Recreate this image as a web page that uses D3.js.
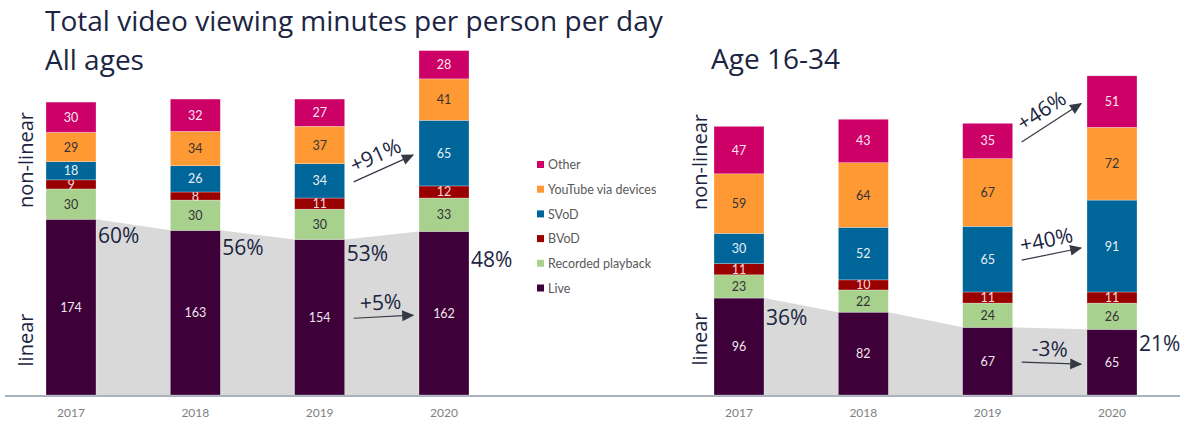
<!DOCTYPE html>
<html>
<head>
<meta charset="utf-8">
<script src="https://cdn.jsdelivr.net/npm/d3@7"></script>
<style>
  body { margin: 0; background: #fff; }
  svg { display: block; }
</style>
</head>
<body>
<div id="chart"></div>
<script>
// Data (minutes per person per day)
const years = ['2017', '2018', '2019', '2020'];
const seriesNames = ['Live', 'Recorded playback', 'BVoD', 'SVoD', 'YouTube via devices', 'Other'];
const seriesColors = ['#3d0039', '#a9d18e', '#990000', '#006699', '#ff9933', '#cc0066'];
const labelColors = ['#f2e6ee', '#333333', '#f5dada', '#e8f0f6', '#333333', '#fbe6f0'];

const allAgesLive = [174, 163, 154, 162];
const allAgesRecorded = [30, 30, 30, 33];
const allAgesBVoD = [9, 8, 11, 12];
const allAgesSVoD = [18, 26, 34, 65];
const allAgesYouTube = [29, 34, 37, 41];
const allAgesOther = [30, 32, 27, 28];

const youngLive = [96, 82, 67, 65];
const youngRecorded = [23, 22, 24, 26];
const youngBVoD = [11, 10, 11, 11];
const youngSVoD = [30, 52, 65, 91];
const youngYouTube = [59, 64, 67, 72];
const youngOther = [47, 43, 35, 51];

// which years get a "linear share" label, and the change arrows (from 2019 to 2020)
const allAgesShareYears = ['2017', '2018', '2019', '2020'];
const youngShareYears = ['2017', '2020'];
const allAgesArrowSeries = ['SVoD', 'Live'];
const youngArrowSeries = ['Other', 'SVoD', 'Live'];

(function() {
  const width = 1193;
  const height = 423;
  const baseY = 395;
  const barW = 50;
  const navy = '#1b2542';
  const sans = 'Lato, sans-serif';
  const head = '"Open Sans", sans-serif';

  const svg = d3.select('#chart').append('svg')
    .attr('width', width)
    .attr('height', height);

  const y = d3.scaleLinear().domain([0, 345]).range([baseY, baseY - 345 * 1.01]);

  // arrowhead
  svg.append('defs').append('marker')
    .attr('id', 'arrowhead')
    .attr('viewBox', '0 -5 10 10')
    .attr('refX', 9)
    .attr('refY', 0)
    .attr('orient', 'auto')
    .attr('markerUnits', 'userSpaceOnUse')
    .attr('markerWidth', 14)
    .attr('markerHeight', 12)
    .append('path')
    .attr('d', 'M0,-4.5L10,0L0,4.5Z')
    .attr('fill', '#333a44');

  // baseline
  svg.append('line')
    .attr('x1', 5).attr('x2', 1180)
    .attr('y1', baseY + 1).attr('y2', baseY + 1)
    .attr('stroke', '#a9b3be')
    .attr('stroke-width', 2);

  // titles
  svg.append('text')
    .attr('x', 45).attr('y', 31)
    .style('font-family', head).style('font-size', '28px')
    .attr('fill', navy)
    .text('Total video viewing minutes per person per day');
  svg.append('text')
    .attr('x', 45).attr('y', 69.5)
    .style('font-family', head).style('font-size', '28px')
    .attr('fill', navy)
    .text('All ages');
  svg.append('text')
    .attr('x', 711).attr('y', 69)
    .style('font-family', head).style('font-size', '28px')
    .attr('fill', navy)
    .text('Age 16-34');

  function drawPanel(cfg) {
    const x = d3.scalePoint().domain(years).range(cfg.range);
    const rows = years.map((yr, i) => {
      const r = { year: yr };
      cfg.values.forEach((arr, k) => { r[seriesNames[k]] = arr[i]; });
      return r;
    });
    const stacked = d3.stack().keys(seriesNames)(rows);
    const live = stacked[0];

    const g = svg.append('g');

    // grey "linear" band connecting the tops of the Live bars
    const pts = [];
    live.forEach((d, i) => {
      const cx = x(years[i]);
      pts.push([cx - barW / 2, y(d[1])], [cx + barW / 2, y(d[1])]);
    });
    const poly = [[x(years[0]), baseY]].concat(pts.slice(1, -1))
      .concat([[x(years[3]), baseY]]);
    poly.splice(1, 0, [x(years[0]), y(live[0][1])]);
    poly.splice(poly.length - 1, 0, [x(years[3]), y(live[3][1])]);
    g.append('path')
      .attr('d', d3.line()(poly) + 'Z')
      .attr('fill', '#d9d9d9');

    // stacked bars
    stacked.forEach((layer, k) => {
      const lg = g.append('g');
      lg.selectAll('rect')
        .data(layer)
        .enter().append('rect')
        .attr('x', d => x(d.data.year) - barW / 2)
        .attr('y', d => y(d[1]))
        .attr('width', barW)
        .attr('height', d => y(d[0]) - y(d[1]))
        .attr('fill', seriesColors[k])
        .attr('stroke', '#ffffff')
        .attr('stroke-opacity', 0.45)
        .attr('stroke-width', 0.6);
      lg.selectAll('text')
        .data(layer)
        .enter().append('text')
        .attr('x', d => x(d.data.year))
        .attr('y', d => (y(d[0]) + y(d[1])) / 2)
        .attr('dy', '0.36em')
        .attr('text-anchor', 'middle')
        .style('font-family', sans)
        .style('font-size', '12.5px')
        .attr('fill', labelColors[k])
        .text(d => d[1] - d[0]);
    });

    // year labels
    g.selectAll('.yr')
      .data(years)
      .enter().append('text')
      .attr('x', d => x(d))
      .attr('y', 417)
      .attr('text-anchor', 'middle')
      .style('font-family', sans)
      .style('font-size', '12px')
      .attr('fill', '#808080')
      .text(d => d);

    // linear share labels
    cfg.shareYears.forEach(yr => {
      const i = years.indexOf(yr);
      const total = stacked[stacked.length - 1][i][1];
      const share = Math.round(live[i][1] / total * 100);
      g.append('text')
        .attr('x', x(yr) + barW / 2 + 2)
        .attr('y', y(live[i][1]) + cfg.shareDy[i])
        .style('font-family', head)
        .style('font-size', '21px')
        .attr('fill', navy)
        .text(share + '%');
    });

    // change arrows 2019 -> 2020
    cfg.arrowSeries.forEach(name => {
      const k = seriesNames.indexOf(name);
      const a = stacked[k][2], b = stacked[k][3];
      const x1 = x('2019') + barW / 2 + 9;
      const x2 = x('2020') - barW / 2 - 6;
      const y1 = (y(a[0]) + y(a[1])) / 2 + 1;
      const y2 = (y(b[0]) + y(b[1])) / 2 + 2;
      const change = Math.round(((b[1] - b[0]) / (a[1] - a[0]) - 1) * 100);
      g.append('line')
        .attr('x1', x1).attr('y1', y1)
        .attr('x2', x2).attr('y2', y2)
        .attr('stroke', '#333a44')
        .attr('stroke-width', 1.2)
        .attr('marker-end', 'url(#arrowhead)');
      const ang = Math.atan2(y2 - y1, x2 - x1) * 180 / Math.PI;
      const mx = (x1 + x2) / 2 - 2, my = (y1 + y2) / 2;
      g.append('text')
        .attr('transform', `translate(${mx},${my}) rotate(${ang})`)
        .attr('y', -7)
        .attr('text-anchor', 'middle')
        .style('font-family', head)
        .style('font-size', '21px')
        .attr('fill', navy)
        .text((change > 0 ? '+' : '') + change + '%');
    });

    // rotated axis labels
    [['non-linear', cfg.nonLinearY], ['linear', cfg.linearY]].forEach(([t, cy]) => {
      g.append('text')
        .attr('transform', `translate(${cfg.axisLabelX},${cy}) rotate(-90)`)
        .attr('text-anchor', 'middle')
        .style('font-family', head)
        .style('font-size', '20px')
        .attr('fill', navy)
        .text(t);
    });
  }

  drawPanel({
    range: [71, 444],
    values: [allAgesLive, allAgesRecorded, allAgesBVoD, allAgesSVoD, allAgesYouTube, allAgesOther],
    shareYears: allAgesShareYears,
    shareDy: [24, 25, 22, 36],
    arrowSeries: allAgesArrowSeries,
    axisLabelX: 33,
    nonLinearY: 160,
    linearY: 340
  });

  drawPanel({
    range: [739, 1112],
    values: [youngLive, youngRecorded, youngBVoD, youngSVoD, youngYouTube, youngOther],
    shareYears: youngShareYears,
    shareDy: [27, 0, 0, 22],
    arrowSeries: youngArrowSeries,
    axisLabelX: 707,
    nonLinearY: 162,
    linearY: 339
  });

  // legend
  const legend = svg.append('g').attr('transform', 'translate(537,165)');
  const order = seriesNames.slice().reverse();
  order.forEach((name, i) => {
    const k = seriesNames.indexOf(name);
    const row = legend.append('g').attr('transform', `translate(0,${i * 24.7})`);
    row.append('rect')
      .attr('x', 0).attr('y', -4)
      .attr('width', 7).attr('height', 7)
      .attr('fill', seriesColors[k]);
    row.append('text')
      .attr('x', 11).attr('y', 0)
      .attr('dy', '0.35em')
      .style('font-family', sans)
      .style('font-size', '12.5px')
      .attr('fill', '#595959')
      .text(name);
  });
})();
</script>
</body>
</html>
